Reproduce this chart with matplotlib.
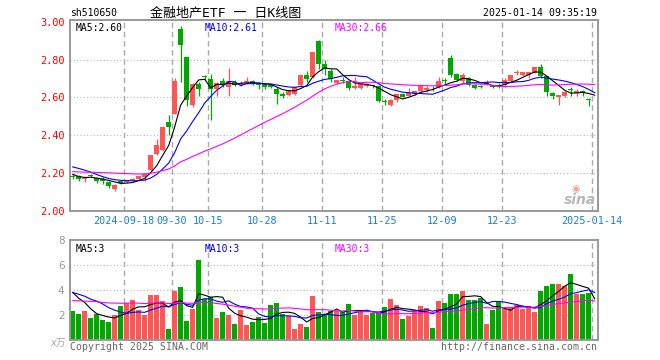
import numpy as np
import pandas as pd
import matplotlib
matplotlib.use('Agg')
import matplotlib.pyplot as plt

plt.rcParams['font.family'] = ['DejaVu Sans Mono', 'Noto Sans CJK SC']

# daily candles, sh510650 (open, high, low, close), 2024-09-03 .. 2025-01-14
opens = [2.182, 2.186, 2.170, 2.188, 2.174, 2.168, 2.153, 2.116, 2.156, 2.151,
         2.158, 2.167, 2.177, 2.216, 2.300, 2.320, 2.470, 2.514, 2.963, 2.812,
         2.558, 2.672, 2.708, 2.698, 2.642, 2.685, 2.657, 2.684, 2.663, 2.674,
         2.686, 2.678, 2.672, 2.668, 2.647, 2.616, 2.612, 2.616, 2.663, 2.716,
         2.707, 2.900, 2.777, 2.738, 2.674, 2.687, 2.686, 2.651, 2.651, 2.660,
         2.663, 2.660, 2.577, 2.558, 2.584, 2.616, 2.610, 2.620, 2.633, 2.640,
         2.645, 2.656, 2.688, 2.810, 2.726, 2.686, 2.704, 2.665, 2.660, 2.672,
         2.660, 2.668, 2.665, 2.686, 2.728, 2.720, 2.720, 2.730, 2.760, 2.712,
         2.621, 2.604, 2.607, 2.640, 2.626, 2.633, 2.594, 2.586]
highs = [2.195, 2.190, 2.178, 2.197, 2.180, 2.177, 2.156, 2.140, 2.158, 2.166,
         2.172, 2.185, 2.200, 2.298, 2.379, 2.450, 2.507, 2.700, 2.975, 2.815,
         2.675, 2.680, 2.720, 2.726, 2.680, 2.700, 2.753, 2.690, 2.685, 2.709,
         2.690, 2.682, 2.675, 2.672, 2.655, 2.630, 2.640, 2.656, 2.720, 2.740,
         2.840, 2.905, 2.800, 2.750, 2.692, 2.710, 2.690, 2.709, 2.678, 2.675,
         2.668, 2.665, 2.590, 2.590, 2.618, 2.620, 2.650, 2.635, 2.665, 2.660,
         2.660, 2.709, 2.705, 2.825, 2.730, 2.728, 2.706, 2.672, 2.665, 2.690,
         2.668, 2.677, 2.700, 2.720, 2.745, 2.736, 2.735, 2.762, 2.775, 2.715,
         2.627, 2.612, 2.633, 2.655, 2.642, 2.638, 2.595, 2.586]
lows = [2.168, 2.156, 2.155, 2.180, 2.146, 2.140, 2.121, 2.108, 2.140, 2.148,
        2.155, 2.162, 2.156, 2.210, 2.296, 2.318, 2.400, 2.510, 2.680, 2.555,
        2.548, 2.610, 2.690, 2.480, 2.610, 2.655, 2.607, 2.660, 2.660, 2.670,
        2.665, 2.646, 2.645, 2.648, 2.567, 2.595, 2.610, 2.612, 2.660, 2.680,
        2.700, 2.750, 2.720, 2.680, 2.670, 2.674, 2.640, 2.645, 2.645, 2.655,
        2.652, 2.575, 2.558, 2.555, 2.575, 2.600, 2.605, 2.615, 2.630, 2.630,
        2.632, 2.650, 2.670, 2.710, 2.685, 2.675, 2.660, 2.646, 2.652, 2.668,
        2.652, 2.651, 2.655, 2.680, 2.720, 2.715, 2.700, 2.728, 2.705, 2.610,
        2.593, 2.558, 2.600, 2.610, 2.607, 2.605, 2.556, 2.584]
closes = [2.180, 2.170, 2.176, 2.186, 2.156, 2.156, 2.133, 2.138, 2.146, 2.165,
          2.170, 2.183, 2.198, 2.296, 2.349, 2.444, 2.444, 2.689, 2.875, 2.584,
          2.672, 2.642, 2.706, 2.647, 2.677, 2.665, 2.686, 2.668, 2.677, 2.686,
          2.676, 2.668, 2.656, 2.657, 2.619, 2.607, 2.637, 2.654, 2.718, 2.695,
          2.838, 2.777, 2.751, 2.695, 2.691, 2.685, 2.651, 2.660, 2.674, 2.672,
          2.658, 2.581, 2.575, 2.586, 2.616, 2.602, 2.625, 2.632, 2.660, 2.650,
          2.642, 2.689, 2.686, 2.721, 2.691, 2.721, 2.668, 2.650, 2.657, 2.676,
          2.657, 2.660, 2.690, 2.716, 2.731, 2.733, 2.733, 2.760, 2.712, 2.628,
          2.607, 2.612, 2.630, 2.637, 2.632, 2.621, 2.585, 2.584]
# volume, 10k lots
volumes = [2.32, 2.08, 2.32, 1.76, 2.05, 1.60, 1.44, 2.00, 2.72, 2.96,
           3.20, 2.40, 2.00, 3.60, 3.60, 3.12, 0.88, 3.95, 4.24, 1.52,
           2.48, 6.40, 3.28, 3.44, 1.76, 2.24, 2.00, 1.28, 2.40, 1.20,
           1.44, 1.84, 1.36, 2.80, 2.96, 2.08, 1.92, 0.88, 1.28, 1.04,
           3.52, 2.24, 2.00, 2.32, 2.32, 2.27, 2.88, 2.00, 2.32, 2.00,
           2.19, 2.13, 2.67, 3.28, 2.80, 1.68, 1.92, 2.32, 2.72, 2.59,
           0.96, 3.12, 2.96, 3.68, 3.68, 3.92, 3.20, 3.20, 3.36, 1.28,
           2.40, 3.12, 2.48, 2.64, 2.80, 2.48, 2.72, 2.24, 3.92, 4.32,
           4.48, 4.48, 4.32, 5.28, 3.68, 3.68, 3.76, 0.08]

# the 29 sessions before the first candle, only needed to start the moving averages
hist_close = [2.22, 2.21, 2.20, 2.19, 2.18, 2.17, 2.18, 2.19, 2.20, 2.21,
              2.20, 2.19, 2.19, 2.18, 2.19, 2.20, 2.20, 2.21, 2.20, 2.20,
              2.25, 2.27, 2.29, 2.28, 2.27, 2.23, 2.20, 2.18, 2.18]
hist_vol = [2.6, 3.0, 2.5, 2.9, 3.2, 2.7, 2.4, 3.1, 2.8, 2.6,
            3.0, 2.9, 2.5, 3.3, 2.8, 2.7, 3.0, 2.6, 2.9, 3.1,
            3.5, 3.9, 4.1, 3.6, 3.9, 4.4, 4.0, 4.3, 4.0]

tick_index = [9, 17, 23, 32, 42, 52, 62, 72, 87]
tick_labels = ['2024-09-18', '09-30', '10-15', '10-28', '11-11',
               '11-25', '12-09', '12-23', '2025-01-14']

RED = '#ff5555'
GREEN = '#00a800'
GRID = '#aaaaaa'
FRAME = '#999999'

n = len(closes)
x = np.arange(n)
o = np.array(opens)
c = np.array(closes)
up = c > o
colors = [RED if u else GREEN for u in up]

all_close = pd.Series(hist_close + closes)
all_vol = pd.Series(hist_vol + volumes)
k = len(hist_close)
ma = {w: all_close.rolling(w).mean().values[k:] for w in (5, 10, 30)}
vma = {w: all_vol.rolling(w).mean().values[k:] for w in (5, 10, 30)}
ma_colors = {5: 'black', 10: '#0000ff', 30: '#ff00ff'}

W, H = 660, 360
fig = plt.figure(figsize=(W / 100, H / 100), dpi=100)


def box(left, top, right, bottom):
    return [left / W, 1 - bottom / H, (right - left) / W, (bottom - top) / H]


ax = fig.add_axes(box(70, 20, 597.5, 211))
axv = fig.add_axes(box(70, 240, 597.5, 340))

xlim = (-0.45, 87.47)
grid_x = [t - 0.42 for t in tick_index]

# price panel
for g in [2.2, 2.4, 2.6, 2.8]:
    ax.axhline(g, color=GRID, lw=0.8, dashes=(0.8, 2.2), zorder=0)
for gx in grid_x:
    ax.axvline(gx, color=GRID, lw=1.0, dashes=(4, 2.6), zorder=0)

ax.vlines(x, lows, highs, colors=colors, lw=0.9, zorder=2)
body = np.maximum(np.abs(c - o), 0.005)
ax.bar(x, body, bottom=np.minimum(o, c), width=0.83, color=colors, lw=0, zorder=3)
for w in (5, 10, 30):
    ax.plot(x, ma[w], color=ma_colors[w], lw=0.8, zorder=4)

ax.set_xlim(*xlim)
ax.set_ylim(2.0, 3.009)
ax.set_yticks([2.0, 2.2, 2.4, 2.6, 2.8, 3.0])
ax.set_yticklabels(['%.2f' % v for v in [2.0, 2.2, 2.4, 2.6, 2.8, 3.0]])
ax.tick_params(axis='y', length=0, pad=4, labelsize=7.4, labelcolor='#ff0000')
ax.set_xticks(grid_x)
ax.set_xticklabels(tick_labels)
ax.tick_params(axis='x', length=0, pad=3.5, labelsize=7.3, labelcolor='#1a7fd0')

ax.text(0.01, 0.985, 'MA5:2.60', transform=ax.transAxes, fontsize=7, color='black', va='top')
ax.text((205 - 70) / 527.5, 0.985, 'MA10:2.61', transform=ax.transAxes, fontsize=7, color='#0000ff', va='top')
ax.text((335 - 70) / 527.5, 0.985, 'MA30:2.66', transform=ax.transAxes, fontsize=7, color='#ff00ff', va='top')

# volume panel
for g in [2, 4, 6]:
    axv.axhline(g, color=GRID, lw=0.8, dashes=(0.8, 2.2), zorder=0)
for gx in grid_x:
    axv.axvline(gx, color=GRID, lw=1.0, dashes=(4, 2.6), zorder=0)
axv.bar(x, volumes, width=0.83, color=colors, lw=0, zorder=2)
for w in (5, 10, 30):
    axv.plot(x, vma[w], color=ma_colors[w], lw=0.8, zorder=3)
axv.set_xlim(*xlim)
axv.set_ylim(0, 8)
axv.set_xticks([])
axv.set_yticks([2, 4, 6, 8])
axv.tick_params(axis='y', length=0, pad=4, labelsize=7.5, labelcolor='#999999')
axv.set_yticklabels(['2', '4', '6', '8'], family='DejaVu Sans')

axv.text(0.01, 0.96, 'MA5:3', transform=axv.transAxes, fontsize=7, color='black', va='top')
axv.text((205 - 70) / 527.5, 0.96, 'MA10:3', transform=axv.transAxes, fontsize=7, color='#0000ff', va='top')
axv.text((335 - 70) / 527.5, 0.96, 'MA30:3', transform=axv.transAxes, fontsize=7, color='#ff00ff', va='top')

for a in (ax, axv):
    for s in a.spines.values():
        s.set_color(FRAME)
        s.set_linewidth(1.4)

# header and footer texts
fig.text(70 / W, 1 - 13 / H, 'sh510650', fontsize=7, color='black', va='center')
fig.text(150 / W, 1 - 13 / H, '金融地产ETF 一 日K线图', fontsize=9.4, color='black', va='center')
fig.text(597 / W, 1 - 13 / H, '2025-01-14 09:35:19', fontsize=7.1, color='black', va='center', ha='right')
fig.text(66 / W, 1 - 343 / H, 'x万', fontsize=7, color='#aaaaaa', va='center', ha='right',
         family=['DejaVu Sans', 'Noto Sans CJK SC'], style='italic')
fig.text(70 / W, 1 - 347 / H, 'Copyright 2025 SINA.COM', fontsize=7.1, color='#666666', va='center')
fig.text(597 / W, 1 - 347 / H, 'http://finance.sina.com.cn', fontsize=7.1, color='#666666', va='center', ha='right')

# sina watermark
fig.text(580 / W, 1 - 200 / H, 'sina', fontsize=10, color='#b8b8b8', style='italic', weight='bold',
         family='DejaVu Sans', va='center', ha='center')
fig.text(576 / W, 1 - 189 / H, '◉', fontsize=7, color='#f4a0a0', family='DejaVu Sans', va='center', ha='center')

fig.savefig('out.png', dpi=100)
